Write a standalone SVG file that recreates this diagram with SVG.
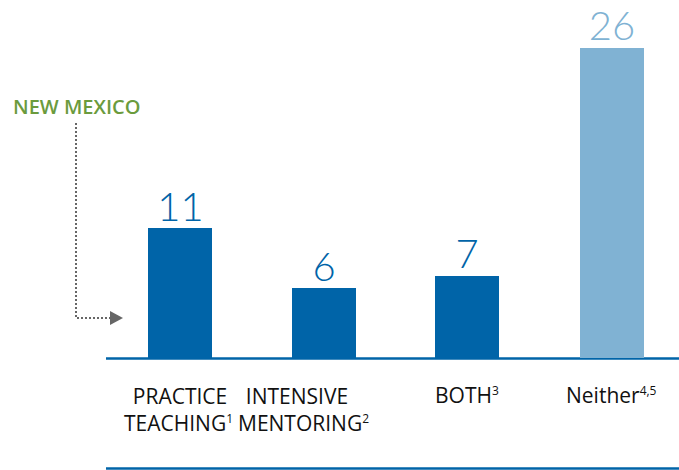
<svg xmlns="http://www.w3.org/2000/svg" width="679" height="470" viewBox="0 0 679 470">
<style>
.dark{fill:#0064a8}
.light{fill:#80b2d3}
.num{font-family:Lato,"Open Sans","Liberation Sans",sans-serif;font-weight:300;font-size:40px;text-anchor:middle}
.lbl{font-family:"Open Sans","Liberation Sans",sans-serif;font-size:21px;fill:#111}
.sup{font-size:12px}
.axis{stroke:#0064a8;stroke-width:2.5;fill:none}
</style>
<defs>
<marker id="arr" markerWidth="13" markerHeight="14" refX="0" refY="7" orient="auto" markerUnits="userSpaceOnUse">
<path d="M0,0 L13,7 L0,14 Z" fill="#666"/>
</marker>
</defs>
<rect width="679" height="470" fill="#fff"/>
<g id="axis">
<line class="axis" x1="106" y1="358.5" x2="679" y2="358.5"/>
<line class="axis" x1="106" y1="468.5" x2="679" y2="468.5"/>
</g>
<g id="bar-practice">
<rect class="dark" x="148" y="228" width="64" height="130"/>
<text class="num dark" x="180.5" y="221">11</text>
<text class="lbl" x="180" y="404" text-anchor="middle">PRACTICE</text>
<text class="lbl" x="124" y="431">TEACHING<tspan class="sup" dy="-8">1</tspan></text>
</g>
<g id="bar-mentoring">
<rect class="dark" x="292" y="288" width="64" height="70"/>
<text class="num dark" x="324" y="281">6</text>
<text class="lbl" x="297" y="404" text-anchor="middle">INTENSIVE</text>
<text class="lbl" x="238" y="431">MENTORING<tspan class="sup" dy="-8">2</tspan></text>
</g>
<g id="bar-both">
<rect class="dark" x="435" y="276" width="64" height="82"/>
<text class="num dark" x="467" y="268">7</text>
<text class="lbl" x="435" y="403">BOTH<tspan class="sup" dy="-8">3</tspan></text>
</g>
<g id="bar-neither">
<rect class="light" x="580" y="48" width="64" height="310"/>
<text class="num light" x="612" y="40">26</text>
<text class="lbl" x="566" y="403">Neither<tspan class="sup" dy="-8">4,5</tspan></text>
</g>
<g id="new-mexico">
<text x="13" y="114" font-family="'Open Sans','Liberation Sans',sans-serif" font-weight="600" font-size="20" fill="#6b9b3d">NEW MEXICO</text>
</g>
<g id="connectors">
<path d="M76,123 V318 H110" fill="none" stroke="#666" stroke-width="2" stroke-dasharray="2,2" marker-end="url(#arr)"/>
</g>
</svg>
